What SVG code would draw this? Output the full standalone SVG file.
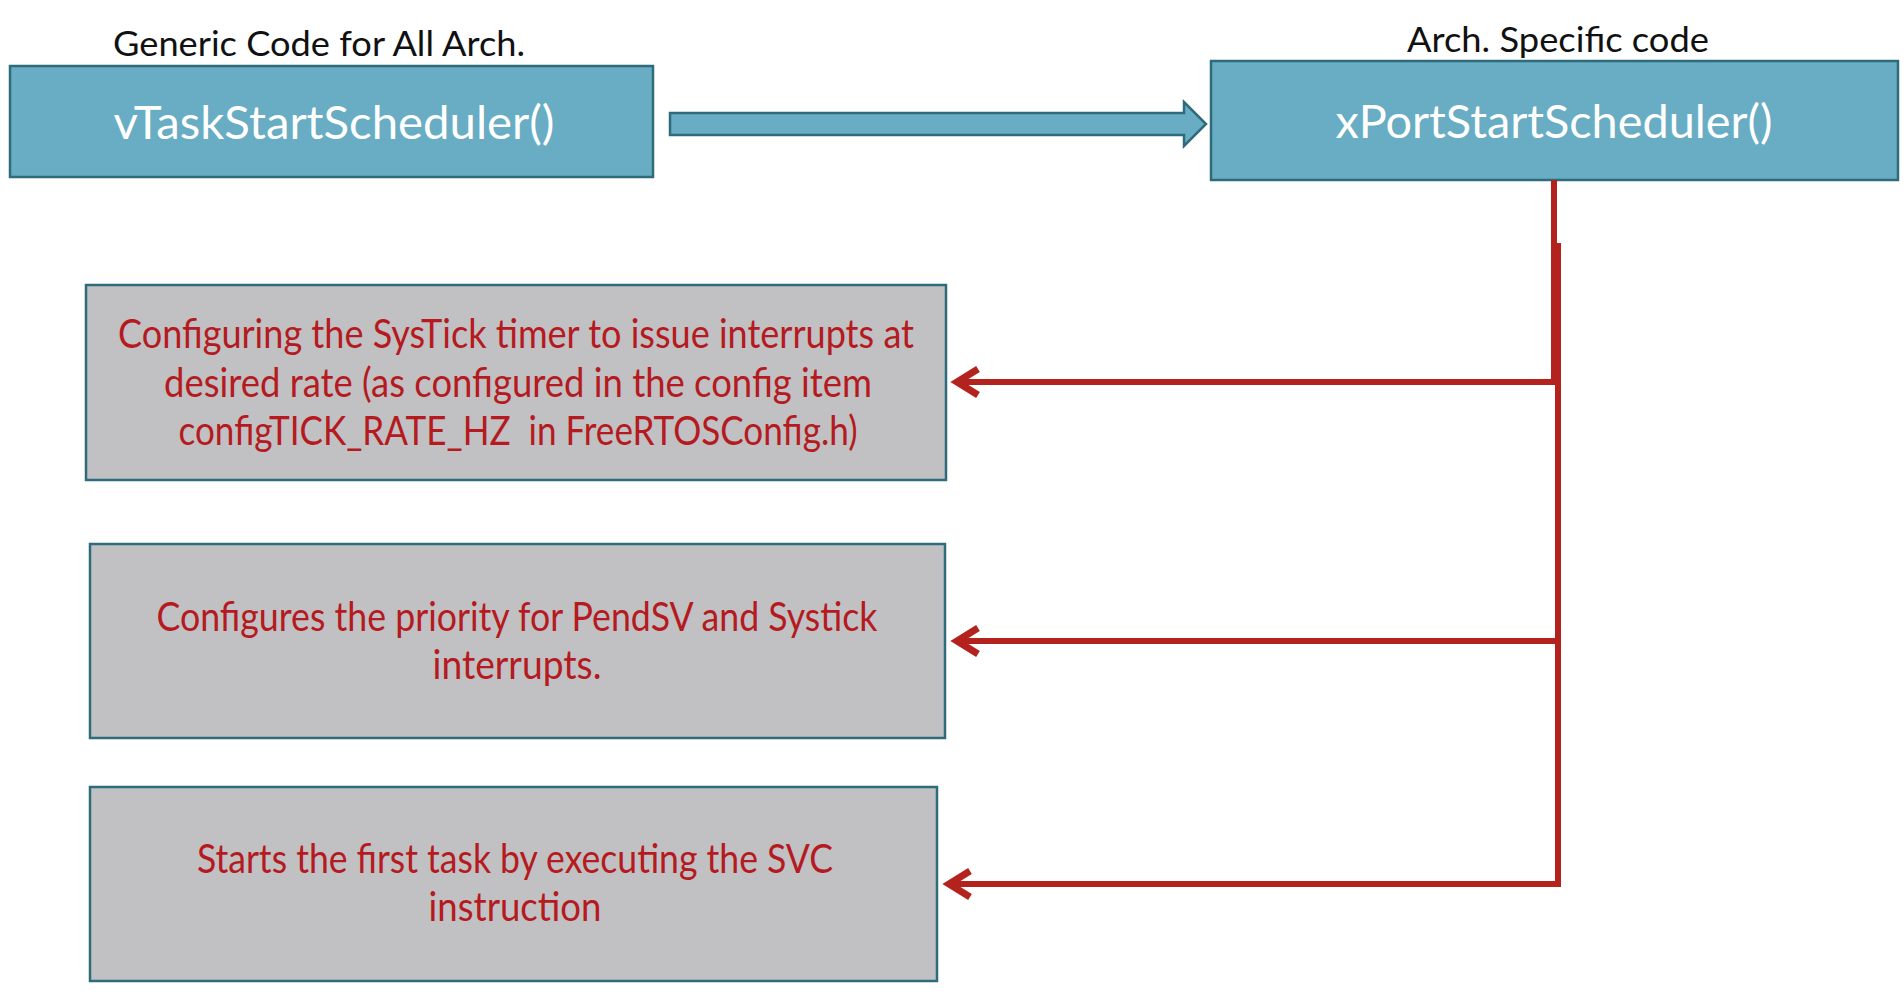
<svg xmlns="http://www.w3.org/2000/svg" width="1904" height="996" viewBox="0 0 1904 996">
<defs>
<style>
.blue{fill:#68adc3;stroke:#2f6c7b;stroke-width:2.5}
.gray{fill:#c1c0c3;stroke:#2f6c7b;stroke-width:2.5}
.lbl{font-family:Lato,"Liberation Sans",sans-serif;fill:#111;font-size:35px;text-anchor:middle}
.ttl{font-family:Lato,"Liberation Sans",sans-serif;fill:#ffffff;font-size:46px;text-anchor:middle}
.red{font-family:Lato,"Liberation Sans",sans-serif;fill:#b51a20;font-size:40px;text-anchor:middle;white-space:pre}
.wire{fill:none;stroke:#b3221d;stroke-width:6}
</style>
<marker id="chev" markerUnits="userSpaceOnUse" markerWidth="40" markerHeight="40" refX="0" refY="0" orient="auto" viewBox="-30 -20 40 40" overflow="visible">
<path d="M-21,-13 L0,0 L-21,13" fill="none" stroke="#b3221d" stroke-width="7" stroke-linejoin="miter"/>
</marker>
</defs>
<rect width="1904" height="996" fill="#ffffff"/>

<g id="node-generic">
<text class="lbl" x="319" y="56" textLength="412" lengthAdjust="spacingAndGlyphs">Generic Code for All Arch.</text>
<rect class="blue" x="10" y="66" width="643" height="111"/>
<text class="ttl" x="334" y="139" textLength="441" lengthAdjust="spacingAndGlyphs">vTaskStartScheduler()</text>
</g>

<g id="node-arch">
<text class="lbl" x="1558" y="52" textLength="302" lengthAdjust="spacingAndGlyphs">Arch. Specific code</text>
<rect class="blue" x="1211" y="61" width="687" height="119"/>
<text class="ttl" x="1554" y="138" textLength="437" lengthAdjust="spacingAndGlyphs">xPortStartScheduler()</text>
</g>

<g id="node-systick">
<rect class="gray" x="86" y="285" width="860" height="195"/>
<text class="red" x="516" y="348" textLength="796" lengthAdjust="spacingAndGlyphs">Configuring the SysTick timer to issue interrupts at</text>
<text class="red" x="518" y="397" textLength="708" lengthAdjust="spacingAndGlyphs">desired rate (as configured in the config item</text>
<text class="red" x="518" y="445" textLength="679" lengthAdjust="spacingAndGlyphs">configTICK_RATE_HZ  in FreeRTOSConfig.h)</text>
</g>

<g id="node-priority">
<rect class="gray" x="90" y="544" width="855" height="194"/>
<text class="red" x="517" y="631" textLength="721" lengthAdjust="spacingAndGlyphs">Configures the priority for PendSV and Systick</text>
<text class="red" x="517" y="679" textLength="169" lengthAdjust="spacingAndGlyphs">interrupts.</text>
</g>

<g id="node-svc">
<rect class="gray" x="90" y="787" width="847" height="194"/>
<text class="red" x="515" y="873" textLength="636" lengthAdjust="spacingAndGlyphs">Starts the first task by executing the SVC</text>
<text class="red" x="515" y="921" textLength="173" lengthAdjust="spacingAndGlyphs">instruction</text>
</g>

<g id="connectors">
<path d="M670,113 H1184 V102 L1206,124 L1184,146 V135 H670 Z" fill="#68adc3" stroke="#2f6c7b" stroke-width="2.5" stroke-linejoin="miter"/>
<path class="wire" d="M1554,180 V382 H957" marker-end="url(#chev)"/>
<path class="wire" d="M1558,243 V884 H949" marker-end="url(#chev)"/>
<path class="wire" d="M1558,641 H957" marker-end="url(#chev)"/>
</g>
</svg>
